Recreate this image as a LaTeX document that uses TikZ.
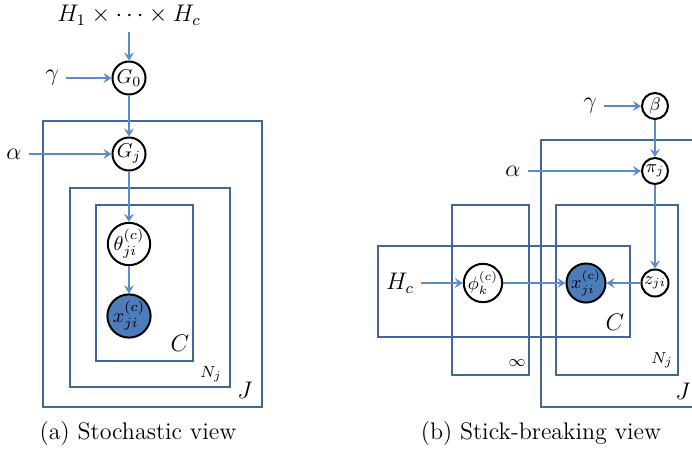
\documentclass[tikz,border=0pt]{standalone}
\usepackage{tikz}
\usetikzlibrary{shapes.geometric, arrows.meta, positioning}
\definecolor{platecol}{HTML}{44679A}
\definecolor{arrowcol}{HTML}{5B8BC9}
\definecolor{obscol}{HTML}{4D7CBB}

\begin{document}
\begin{tikzpicture}[x=0.5pt, y=-0.5pt,
    latent/.style={circle, draw, line width=1pt, inner sep=0pt, minimum size=16.5pt, font=\normalsize},
    small/.style={latent, minimum size=13pt, font=\small},
    obs/.style={fill=obscol},
    plate/.style={draw=platecol, line width=1pt},
    lbl/.style={font=\large},
    tag/.style={font=\footnotesize},
    arrow/.style={thick, draw=arrowcol, ->, >={Stealth[length=4pt, width=5pt, inset=1.5pt]}}]
\useasboundingbox (0,0) rectangle (692,452);

% (a) stochastic view
\draw [plate] (43,121) rectangle (262,407);
\draw [plate] (70,188) rectangle (230,387);
\draw [plate] (96,205) rectangle (193,361);
\node (base) [lbl] at (129,15) {$H_1\times\cdots\times H_c$};
\node (gammaA) [lbl] at (52,78) {$\gamma$};
\node (alphaA) [lbl] at (14,154) {$\alpha$};
\node (G0) [latent] at (129,78) {$G_0$};
\node (Gj) [latent] at (129,154) {$G_j$};
\node (theta) [latent, minimum size=21pt] at (129,244) {$\theta^{(c)}_{ji}$};
\node (xA) [latent, obs, minimum size=20pt] at (129,316) {$x^{(c)}_{ji}$};
\node [lbl] at (180,343) {$C$};
\node [tag] at (211,374) {$N_j$};
\node [lbl] at (245,390) {$J$};
\draw [arrow] (base) -- (G0);
\draw [arrow] (gammaA) -- (G0);
\draw [arrow] (G0) -- (Gj);
\draw [arrow] (alphaA) -- (Gj);
\draw [arrow] (Gj) -- (theta);
\draw [arrow] (theta) -- (xA);
\node [lbl] at (138,434) {(a) Stochastic view};

% (b) stick-breaking view
\draw [plate] (692,140) -- (541,140) -- (541,407) -- (692,407);
\draw [plate] (452,205) rectangle (529,375);
\draw [plate] (556,205) rectangle (678,375);
\draw [plate] (378,246) rectangle (630,337);
\node (gammaB) [lbl] at (590,106) {$\gamma$};
\node (alphaB) [lbl] at (513,171) {$\alpha$};
\node (Hc) [lbl] at (400,283) {$H_c$};
\node (beta) [small] at (655,106) {$\beta$};
\node (pi) [small] at (655,171) {$\pi_j$};
\node (z) [small, minimum size=13.5pt] at (655,283) {$z_{ji}$};
\node (phi) [small, minimum size=16.5pt] at (483,283) {$\phi^{(c)}_k$};
\node (xB) [small, obs, minimum size=16pt] at (586,283) {$x^{(c)}_{ji}$};
\node [lbl] at (615,322) {$C$};
\node [tag] at (517,363) {$\infty$};
\node [tag] at (662,360) {$N_j$};
\node [lbl] at (683,391) {$J$};
\draw [arrow] (gammaB) -- (beta);
\draw [arrow] (beta) -- (pi);
\draw [arrow] (alphaB) -- (pi);
\draw [arrow] (pi) -- (z);
\draw [arrow] (Hc) -- (phi);
\draw [arrow] (phi) -- (xB);
\draw [arrow] (z) -- (xB);
\node [lbl] at (541,434) {(b) Stick-breaking view};
\end{tikzpicture}
\end{document}
